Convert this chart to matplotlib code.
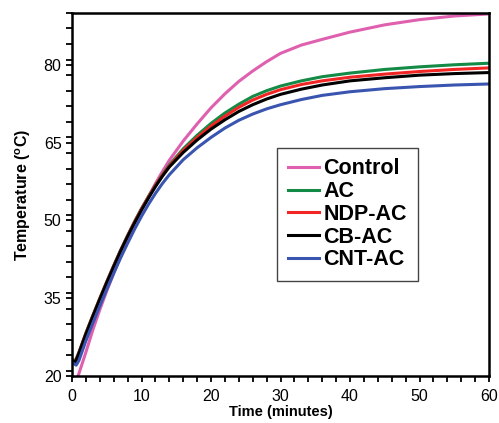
import numpy as np
import matplotlib.pyplot as plt
from matplotlib.ticker import MultipleLocator

plt.rcParams['font.family'] = ['Liberation Sans', 'DejaVu Sans']
plt.rcParams['mathtext.fontset'] = 'custom'
plt.rcParams['mathtext.rm'] = 'Liberation Sans'
plt.rcParams['mathtext.bf'] = 'Liberation Sans:bold'

# time points (minutes) and temperatures
t_ctrl = [0.8, 1, 2, 3, 4, 5, 6, 7, 8, 9, 10, 11, 12, 13, 14, 16, 18, 20, 22, 24, 26,
          28, 30, 33, 36, 40, 45, 50, 55, 60]
T_ctrl = [19.8, 20.5, 24.6, 28.9, 32.8, 36.4, 39.8, 43.1, 46.2, 49.2, 52.0, 54.6, 57.1,
          59.4, 61.6, 65.3, 68.6, 71.7, 74.4, 76.8, 78.8, 80.6, 82.2, 83.8, 84.9, 86.3,
          87.7, 88.7, 89.4, 89.8]

t_s = [0, 0.5, 1, 2, 3, 4, 5, 6, 7, 8, 9, 10, 11, 12, 13, 14, 16, 18, 20, 22, 24, 26,
       28, 30, 33, 36, 40, 45, 50, 55, 60]
T_ac = [23.2, 23.0, 24.6, 28.3, 31.7, 35.0, 38.2, 41.3, 44.3, 47.1, 49.8, 52.3, 54.6,
        56.8, 58.8, 60.7, 63.8, 66.4, 68.7, 70.7, 72.4, 73.9, 75.0, 75.9, 76.9, 77.7,
        78.4, 79.1, 79.6, 80.0, 80.3]
T_ndp = [23.1, 22.8, 24.5, 28.2, 31.6, 34.9, 38.1, 41.2, 44.2, 47.0, 49.7, 52.2, 54.5,
         56.7, 58.7, 60.5, 63.5, 66.0, 68.2, 70.1, 71.8, 73.2, 74.3, 75.2, 76.2, 76.9,
         77.6, 78.2, 78.7, 79.1, 79.4]
T_cb = [23.0, 22.7, 24.4, 28.1, 31.5, 34.8, 38.0, 41.1, 44.1, 46.9, 49.5, 52.0, 54.3,
        56.5, 58.5, 60.3, 63.1, 65.5, 67.6, 69.4, 71.0, 72.3, 73.4, 74.3, 75.3, 76.1,
        76.9, 77.5, 78.0, 78.3, 78.5]
t_cnt = [0, 0.6, 1, 2, 3, 4, 5, 6, 7, 8, 9, 10, 11, 12, 13, 14, 16, 18, 20, 22, 24, 26,
         28, 30, 33, 36, 40, 45, 50, 55, 60]
T_cnt = [22.6, 22.1, 23.0, 26.8, 30.2, 33.5, 36.7, 39.8, 42.8, 45.6, 48.3, 50.8, 53.1,
         55.2, 57.1, 58.8, 61.7, 64.0, 66.0, 67.8, 69.3, 70.5, 71.5, 72.3, 73.3, 74.1,
         74.8, 75.4, 75.8, 76.1, 76.3]

fig = plt.figure(figsize=(4.99, 4.23), dpi=100)
ax = fig.add_axes([0.1443, 0.111, 0.8357, 0.8585])

lw = 2.2
ax.plot(t_ctrl, T_ctrl, color='#e060b0', lw=lw, label='Control')
ax.plot(t_s, T_ac, color='#138a45', lw=lw, label='AC')
ax.plot(t_s, T_ndp, color='#f22525', lw=lw, label='NDP-AC')
ax.plot(t_s, T_cb, color='black', lw=lw, label='CB-AC')
ax.plot(t_cnt, T_cnt, color='#3a55b0', lw=lw, label='CNT-AC')

ax.set_xlim(0, 60)
ax.set_ylim(20, 90)
ax.xaxis.set_major_locator(MultipleLocator(10))
ax.xaxis.set_minor_locator(MultipleLocator(2))
ax.set_yticks([20, 35, 50, 65, 80])
ax.yaxis.set_minor_locator(MultipleLocator(3))
ax.tick_params(which='both', direction='out', length=4, width=1.3, labelsize=11.5)
ax.tick_params(axis='x', pad=5)
for s in ax.spines.values():
    s.set_linewidth(1.8)

ax.set_xlabel('Time (minutes)', fontsize=10.5, fontweight='bold', labelpad=1)
ax.set_ylabel(r'Temperature ($\mathbf{^o}$C)', fontsize=11.5, fontweight='bold', labelpad=8)

leg = ax.legend(loc='upper left', bbox_to_anchor=(0.491, 0.629), fancybox=False,
                edgecolor='#444444', prop={'weight': 'bold', 'size': 15.5},
                handlelength=1.45, handletextpad=0.22, labelspacing=0.08,
                borderpad=0.5, borderaxespad=0, framealpha=1)
leg.get_frame().set_linewidth(1.0)

fig.savefig('out.png', dpi=100)
